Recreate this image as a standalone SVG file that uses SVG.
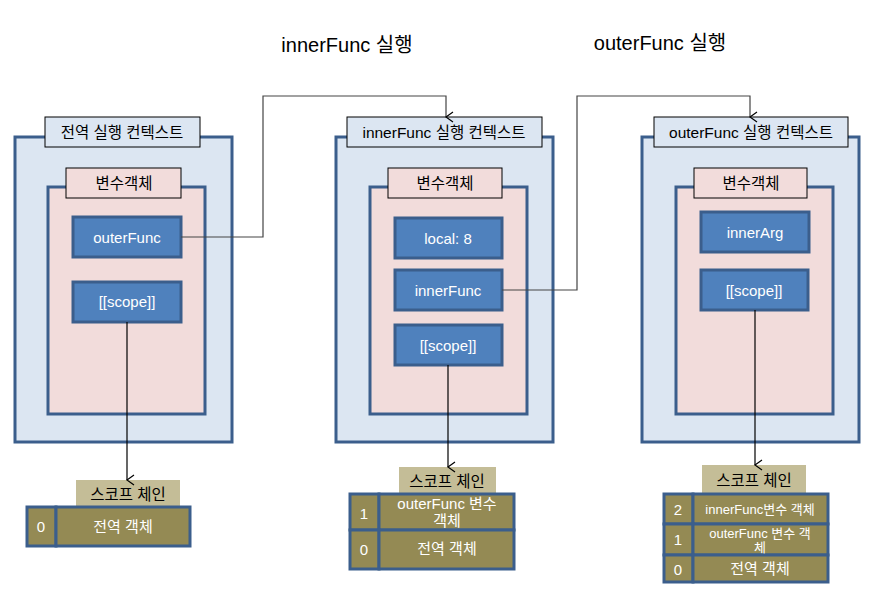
<svg xmlns="http://www.w3.org/2000/svg" width="869" height="593" viewBox="0 0 869 593">
<defs>
<marker id="arr" markerWidth="12" markerHeight="12" refX="6" refY="10" orient="auto" markerUnits="userSpaceOnUse" viewBox="0 0 12 12">
<path d="M1,3 L6,10 L11,3" fill="none" stroke="#000" stroke-width="1.2"/>
</marker>
<style>
text{font-family:"Liberation Sans","Noto Sans CJK KR",sans-serif;text-anchor:middle;dominant-baseline:central}
.ctx{fill:#dce6f2;stroke:#3b5e8c;stroke-width:3}
.ttl{fill:#dce6f2;stroke:#000;stroke-width:1}
.vo{fill:#f2dcdb;stroke:#3b5e8c;stroke-width:3}
.vol{fill:#f2dcdb;stroke:#000;stroke-width:1}
.var{fill:#4f81bd;stroke:#3b5e8c;stroke-width:3}
.chl{fill:#c4bd97;stroke:none}
.cell{fill:#948a54;stroke:#3b5e8c;stroke-width:3}
.t15{font-size:15.5px;fill:#000}
.tw{font-size:15px;fill:#fff}
.tw13{font-size:13px;fill:#fff}
.h{font-size:20px;fill:#000}
.conn{fill:none;stroke:#444;stroke-width:1.2}
.sc{fill:none;stroke:#000;stroke-width:1.2}
</style>
</defs>
<rect width="869" height="593" fill="#fff"/>
<text class="h" x="347" y="45">innerFunc 실행</text>
<text class="h" x="660" y="43">outerFunc 실행</text>

<g id="global-ctx">
<rect class="ctx" x="15" y="137" width="217" height="305"/>
<rect class="ttl" x="45" y="117" width="155" height="30"/>
<text class="t15" x="122" y="132">전역 실행 컨텍스트</text>
<rect class="vo" x="48" y="187" width="157" height="227"/>
<rect class="vol" x="66" y="168" width="115" height="30"/>
<text class="t15" x="124" y="183">변수객체</text>
</g>
<g id="global-outerFunc"><rect class="var" x="73" y="217" width="108" height="40"/><text class="tw" x="127" y="237">outerFunc</text></g>
<g id="global-scope"><rect class="var" x="73" y="282" width="108" height="40"/><text class="tw" x="127" y="301">[[scope]]</text></g>

<g id="inner-ctx">
<rect class="ctx" x="336" y="137" width="217" height="305"/>
<rect class="ttl" x="347" y="117" width="195" height="30"/>
<text class="t15" x="444" y="132">innerFunc 실행 컨텍스트</text>
<rect class="vo" x="370" y="187" width="157" height="227"/>
<rect class="vol" x="388" y="168" width="114" height="30"/>
<text class="t15" x="445" y="183">변수객체</text>
</g>
<g id="inner-local"><rect class="var" x="395" y="218" width="107" height="40"/><text class="tw" x="448" y="238">local: 8</text></g>
<g id="inner-innerFunc"><rect class="var" x="395" y="270" width="107" height="40"/><text class="tw" x="448" y="290">innerFunc</text></g>
<g id="inner-scope"><rect class="var" x="395" y="325" width="107" height="40"/><text class="tw" x="448" y="345">[[scope]]</text></g>

<g id="outer-ctx">
<rect class="ctx" x="642" y="137" width="217" height="305"/>
<rect class="ttl" x="654" y="117" width="194" height="30"/>
<text class="t15" x="751" y="132">outerFunc 실행 컨텍스트</text>
<rect class="vo" x="676" y="187" width="157" height="227"/>
<rect class="vol" x="694" y="168" width="113" height="30"/>
<text class="t15" x="751" y="183">변수객체</text>
</g>
<g id="outer-innerArg"><rect class="var" x="701" y="212" width="108" height="40"/><text class="tw" x="755" y="232">innerArg</text></g>
<g id="outer-scope"><rect class="var" x="701" y="270" width="107" height="40"/><text class="tw" x="754" y="290">[[scope]]</text></g>

<g id="chain-global">
<rect class="chl" x="76" y="480" width="104" height="28"/>
<text class="t15" x="128" y="494">스코프 체인</text>
<rect class="cell" x="27" y="507" width="29" height="39"/>
<text class="tw" x="41" y="526">0</text>
<rect class="cell" x="56" y="507" width="134" height="39"/>
<text class="tw" x="123" y="526">전역 객체</text>
</g>

<g id="chain-inner">
<rect class="chl" x="399" y="467" width="97" height="27"/>
<text class="t15" x="447" y="481">스코프 체인</text>
<rect class="cell" x="350" y="494" width="29" height="36"/>
<text class="tw" x="364" y="513">1</text>
<rect class="cell" x="379" y="494" width="135" height="36"/>
<text class="tw" x="447" y="503">outerFunc 변수</text>
<text class="tw" x="447" y="520">객체</text>
<rect class="cell" x="350" y="530" width="29" height="39"/>
<text class="tw" x="364" y="549">0</text>
<rect class="cell" x="379" y="530" width="135" height="39"/>
<text class="tw" x="447" y="548">전역 객체</text>
</g>

<g id="chain-outer">
<rect class="chl" x="702" y="465" width="104" height="29"/>
<text class="t15" x="754" y="480">스코프 체인</text>
<rect class="cell" x="664" y="494" width="29" height="30"/>
<text class="tw" x="678" y="509">2</text>
<rect class="cell" x="693" y="494" width="135" height="30"/>
<text class="tw13" x="760" y="509">innerFunc변수 객체</text>
<rect class="cell" x="664" y="524" width="29" height="31"/>
<text class="tw" x="678" y="539">1</text>
<rect class="cell" x="693" y="524" width="135" height="31"/>
<text class="tw13" x="760" y="533">outerFunc 변수 객</text>
<text class="tw13" x="760" y="547">체</text>
<rect class="cell" x="664" y="555" width="29" height="27"/>
<text class="tw" x="678" y="569">0</text>
<rect class="cell" x="693" y="555" width="135" height="27"/>
<text class="tw" x="760" y="568">전역 객체</text>
</g>

<g id="connectors">
<path class="conn" d="M181,237 H263 V96 H446 V117" marker-end="url(#arr)"/>
<path class="conn" d="M502,290 H577 V96 H750 V117" marker-end="url(#arr)"/>
<path class="sc" d="M127,322 V480" marker-end="url(#arr)"/>
<path class="sc" d="M448,365 V467" marker-end="url(#arr)"/>
<path class="sc" d="M755,310 V465" marker-end="url(#arr)"/>
</g>
</svg>
